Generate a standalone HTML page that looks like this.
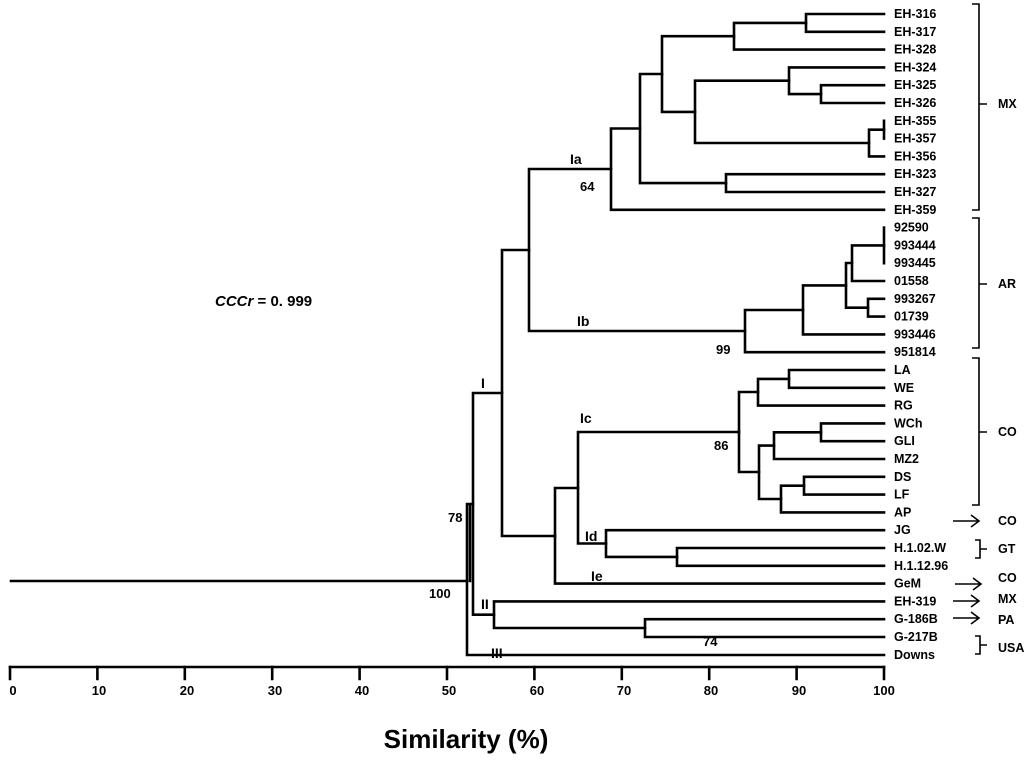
<!DOCTYPE html>
<html><head><meta charset="utf-8"><style>
html,body{margin:0;padding:0;background:#fff;}
svg{display:block;font-family:"Liberation Sans",sans-serif;font-weight:bold;}
</style></head><body>
<svg width="1024" height="761" viewBox="0 0 1024 761" xmlns="http://www.w3.org/2000/svg">
<g stroke="#000" stroke-width="2.6" fill="none" stroke-linecap="square">
<path d="M806 14V31.8M806 14H884M806 31.8H884"/>
<path d="M734 22.9V49.6M734 22.9H806M734 49.6H884"/>
<path d="M821 85.2V103M821 85.2H884M821 103H884"/>
<path d="M789 67.4V94.1M789 67.4H884M789 94.1H821"/>
<path d="M884 120.8V138.6"/>
<path d="M869 129.7V156.4M869 129.7H884M869 156.4H884"/>
<path d="M695 80.7V143M695 80.7H789M695 143H869"/>
<path d="M662 36.2V111.9M662 36.2H734M662 111.9H695"/>
<path d="M726 174.2V192M726 174.2H884M726 192H884"/>
<path d="M640 74V183.1M640 74H662M640 183.1H726"/>
<path d="M611 128.5V209.8M611 128.5H640M611 209.8H884"/>
<path d="M884 227.6V263.2"/>
<path d="M852 245.4V281M852 245.4H884M852 281H884"/>
<path d="M868 298.8V316.6M868 298.8H884M868 316.6H884"/>
<path d="M846 263V307.7M846 263H852M846 307.7H868"/>
<path d="M803 285.4V334.4M803 285.4H846M803 334.4H884"/>
<path d="M745 310V352.2M745 310H803M745 352.2H884"/>
<path d="M529 169V331M529 169H611M529 331H745"/>
<path d="M789 370V387.8M789 370H884M789 387.8H884"/>
<path d="M758 378.9V405.6M758 378.9H789M758 405.6H884"/>
<path d="M821 423.4V441.2M821 423.4H884M821 441.2H884"/>
<path d="M774 432.3V459M774 432.3H821M774 459H884"/>
<path d="M804 476.8V494.6M804 476.8H884M804 494.6H884"/>
<path d="M781 485.7V512.4M781 485.7H804M781 512.4H884"/>
<path d="M759 445.6V499M759 445.6H774M759 499H781"/>
<path d="M739 392V472M739 392H758M739 472H759"/>
<path d="M677 548V565.8M677 548H884M677 565.8H884"/>
<path d="M606 530.2V556.9M606 530.2H884M606 556.9H677"/>
<path d="M578 432V543.5M578 432H739M578 543.5H606"/>
<path d="M555 488V583.6M555 488H578M555 583.6H884"/>
<path d="M502 250V536M502 250H529M502 536H555"/>
<path d="M645 619.2V637M645 619.2H884M645 637H884"/>
<path d="M494 601.4V628M494 601.4H884M494 628H645"/>
<path d="M473 393V614.7M473 393H502M473 614.7H494"/>
<path d="M467 504V655M470 504V581M467 504H473M467 655H884"/>
<path d="M11 581H467"/>
<path d="M10 667H884"/>
<path d="M10 667V679M97.4 667V679M184.8 667V679M272.2 667V679M359.6 667V679M447 667V679M534.4 667V679M621.8 667V679M709.2 667V679M796.6 667V679M884 667V679"/>
</g>
<g stroke="#000" stroke-width="1.6" fill="none">
<path d="M972 4H979V210H972M979 104H987"/>
<path d="M972 218H979V348H972M979 284H987"/>
<path d="M972 358H979V505H972M979 432H987"/>
<path d="M975 540H980V558H975M980 549H987"/>
<path d="M975 636H980V654H975M980 645H987"/>
<path d="M953 521H978M971 515L979 521L971 527"/>
<path d="M955 584H980M973 578L981 584L973 590"/>
<path d="M953 601H978M971 595L979 601L971 607"/>
<path d="M953 618H978M971 612L979 618L971 624"/>
</g>
<g font-size="12.5" fill="#000">
<text x="894" y="18">EH-316</text><text x="894" y="35.8">EH-317</text><text x="894" y="53.6">EH-328</text>
<text x="894" y="71.4">EH-324</text><text x="894" y="89.2">EH-325</text><text x="894" y="107">EH-326</text>
<text x="894" y="124.8">EH-355</text><text x="894" y="142.6">EH-357</text><text x="894" y="160.4">EH-356</text>
<text x="894" y="178.2">EH-323</text><text x="894" y="196">EH-327</text><text x="894" y="213.8">EH-359</text>
<text x="894" y="231.6">92590</text><text x="894" y="249.4">993444</text><text x="894" y="267.2">993445</text>
<text x="894" y="285">01558</text><text x="894" y="302.8">993267</text><text x="894" y="320.6">01739</text>
<text x="894" y="338.4">993446</text><text x="894" y="356.2">951814</text>
<text x="894" y="374">LA</text><text x="894" y="391.8">WE</text><text x="894" y="409.6">RG</text>
<text x="894" y="427.4">WCh</text><text x="894" y="445.2">GLI</text><text x="894" y="463">MZ2</text>
<text x="894" y="480.8">DS</text><text x="894" y="498.6">LF</text><text x="894" y="516.4">AP</text>
<text x="894" y="534.2">JG</text><text x="894" y="552">H.1.02.W</text><text x="894" y="569.8">H.1.12.96</text>
<text x="894" y="587.6">GeM</text><text x="894" y="605.4">EH-319</text><text x="894" y="623.2">G-186B</text>
<text x="894" y="641">G-217B</text><text x="894" y="658.8">Downs</text>
<text x="998" y="108">MX</text><text x="998" y="288">AR</text><text x="998" y="436">CO</text>
<text x="998" y="525">CO</text><text x="998" y="553">GT</text><text x="998" y="582">CO</text>
<text x="998" y="603">MX</text><text x="998" y="624">PA</text><text x="998" y="652">USA</text>
</g>
<g font-size="14" fill="#000">
<text x="570" y="164">Ia</text><text x="580" y="191" font-size="13">64</text>
<text x="577" y="326">Ib</text><text x="716" y="354" font-size="13">99</text>
<text x="481" y="388">I</text>
<text x="580" y="423">Ic</text><text x="714" y="450" font-size="13">86</text>
<text x="585" y="541">Id</text><text x="591" y="581">Ie</text>
<text x="448" y="522" font-size="13">78</text>
<text x="429" y="598" font-size="13">100</text>
<text x="481" y="609">II</text><text x="491" y="658">III</text>
<text x="703" y="646" font-size="13">74</text>
</g>
<text x="215" y="306" font-size="15" fill="#000"><tspan font-style="italic">CCCr</tspan> = 0. 999</text>
<g font-size="13" fill="#000" text-anchor="middle">
<text x="13" y="695">0</text><text x="99" y="695">10</text><text x="187" y="695">20</text><text x="275" y="695">30</text>
<text x="362" y="695">40</text><text x="449" y="695">50</text><text x="537" y="695">60</text><text x="624" y="695">70</text>
<text x="711" y="695">80</text><text x="799" y="695">90</text><text x="884" y="695">100</text>
</g>
<text x="466" y="748" font-size="26" text-anchor="middle" fill="#000">Similarity (%)</text>
</svg>
</body></html>
